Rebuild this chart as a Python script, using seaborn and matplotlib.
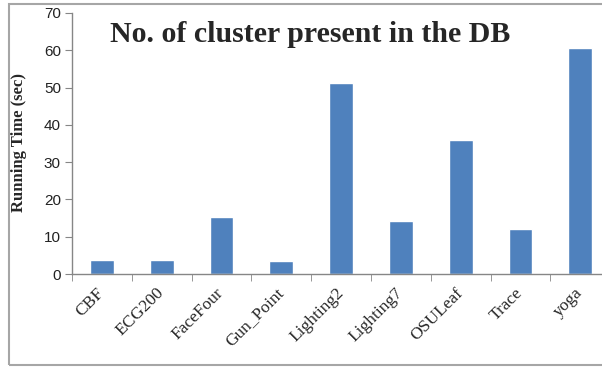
import matplotlib

matplotlib.use('Agg')
import matplotlib.pyplot as plt
import pandas as pd
import seaborn as sns
from matplotlib.patches import Rectangle

datasets = ['CBF', 'ECG200', 'FaceFour', 'Gun_Point', 'Lighting2', 'Lighting7', 'OSULeaf', 'Trace', 'yoga']
running_time = [3.8, 3.8, 15.3, 3.5, 51.1, 14.3, 35.9, 12.0, 60.5]
y_ticks = [0, 10, 20, 30, 40, 50, 60, 70]

W, H = 602, 367


def main():
    sns.set_style('white')
    df = pd.DataFrame({'dataset': datasets, 'time': running_time})

    fig = plt.figure(figsize=(W / 100, H / 100), dpi=100)
    # outer chart border (cropped on the right in the original)
    fig.patches.append(Rectangle((9 / W, 1 - 365 / H), 1.0, (365 - 4) / H,
                                 transform=fig.transFigure, fill=False,
                                 edgecolor='#a6a6a6', linewidth=1.5))

    left, right = 72 / W, (72 + 9 * 59.8) / W
    top, bottom = 1 - 13 / H, 1 - 274 / H
    ax = fig.add_axes([left, bottom, right - left, top - bottom])

    sns.barplot(data=df, x='dataset', y='time', color='#4f81bd', width=0.4,
                saturation=1, ax=ax)

    ax.set_xlim(-0.5, len(datasets) - 0.5)
    ax.set_ylim(0, 70)
    ax.set_yticks(y_ticks)
    ax.set_yticklabels([str(t) for t in y_ticks], fontsize=11, family='Liberation Sans', color='#222222')

    ax.set_xticks(range(len(datasets)))
    ax.set_xticklabels(datasets, rotation=45, ha='right', va='center', rotation_mode='anchor',
                       fontsize=12.5, family='Liberation Serif')
    ax.set_xticks([i - 0.5 for i in range(len(datasets) + 1)], minor=True)
    ax.tick_params(axis='x', which='major', length=0, pad=12)
    ax.tick_params(axis='x', which='minor', length=5, color='#868686', direction='out', bottom=True)
    ax.tick_params(axis='y', length=5, color='#868686', direction='out', left=True, pad=3)

    for side in ['top', 'right']:
        ax.spines[side].set_visible(False)
    for side in ['left', 'bottom']:
        ax.spines[side].set_color('#868686')
        ax.spines[side].set_linewidth(1.0)

    ax.set_xlabel('')
    ax.set_ylabel('Running Time (sec)', fontsize=12, fontweight='bold', family='Liberation Serif')
    ax.yaxis.set_label_coords((27 - 72) / ((right - left) * W), 1 - (143 - 13) / (274 - 13))

    fig.text(310 / W, 1 - 35 / H, 'No. of cluster present in the DB', ha='center', va='center',
             fontsize=21.5, fontweight='bold', family='Liberation Serif')

    fig.savefig('out.png', dpi=100)
    plt.close(fig)


if __name__ == '__main__':
    main()
